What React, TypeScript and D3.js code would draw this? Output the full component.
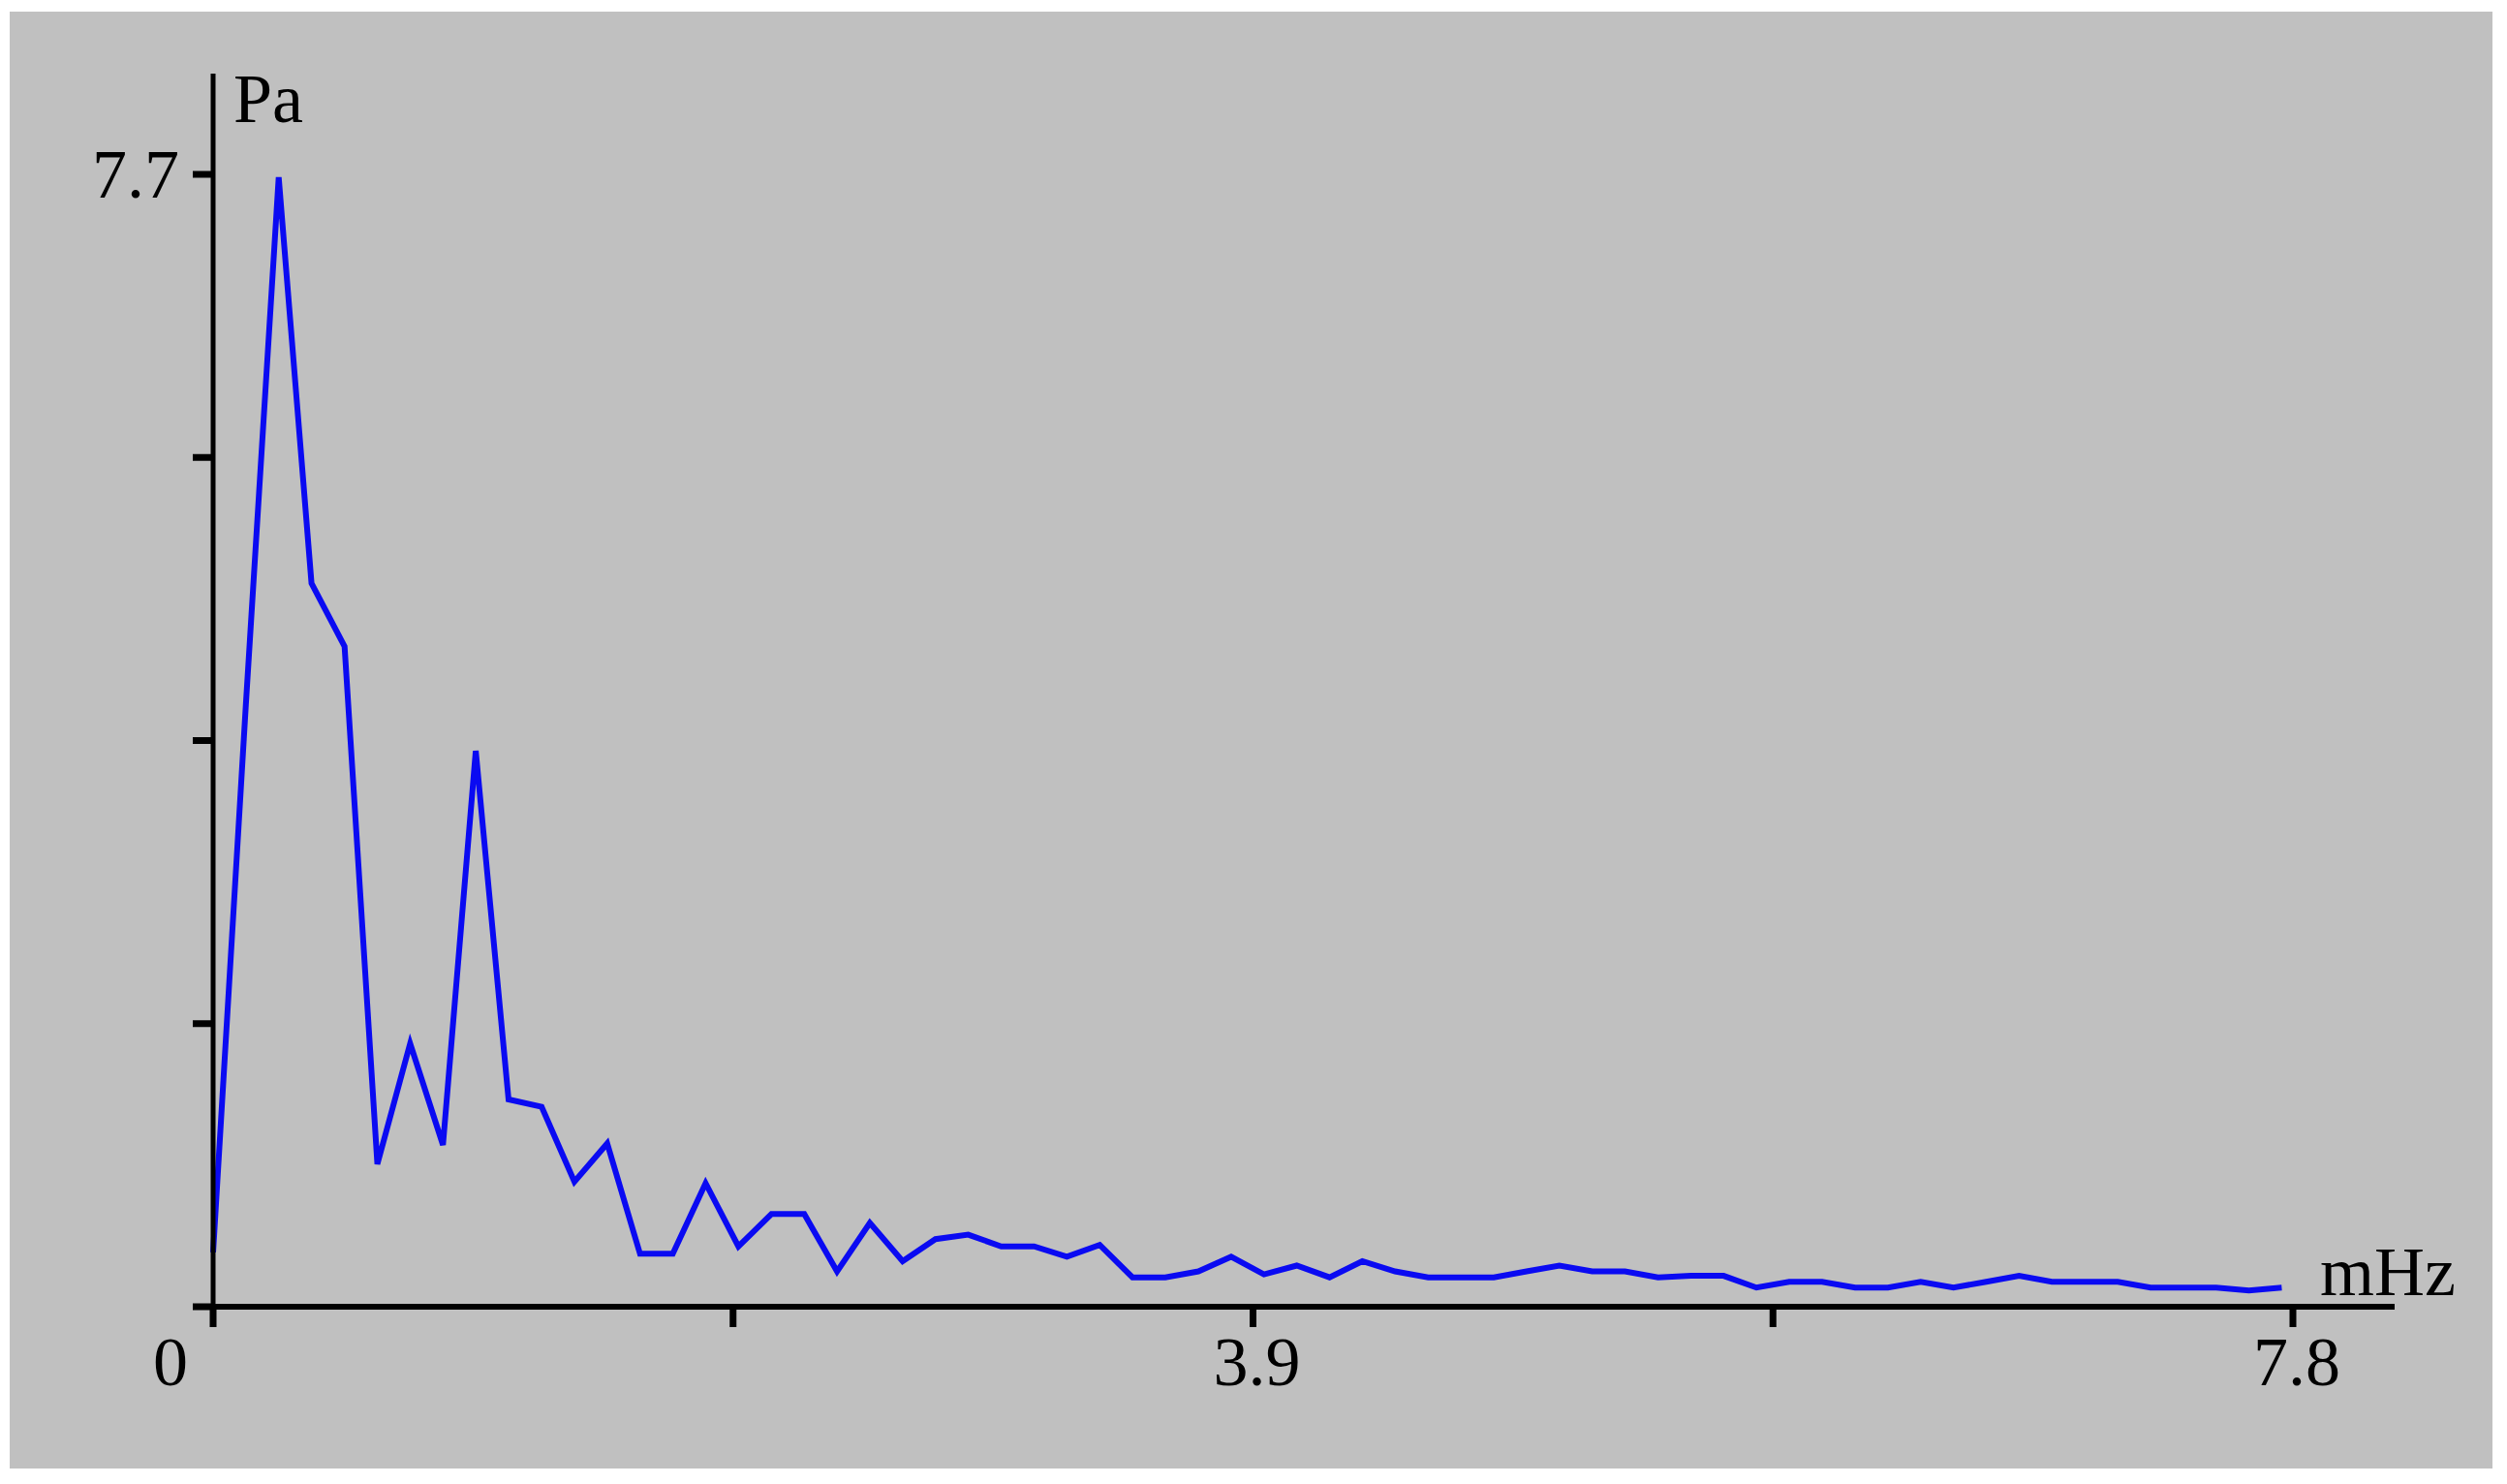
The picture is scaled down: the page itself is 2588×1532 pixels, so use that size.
import React from 'react';
import * as d3 from 'd3';

// Frequency (mHz) of each spectral sample
const freqs = [
  0, 0.123, 0.246, 0.369, 0.493, 0.616, 0.739, 0.862, 0.985, 1.108,
  1.232, 1.355, 1.478, 1.601, 1.724, 1.847, 1.97, 2.094, 2.217, 2.34,
  2.463, 2.586, 2.709, 2.832, 2.956, 3.079, 3.202, 3.325, 3.448, 3.571,
  3.695, 3.818, 3.941, 4.064, 4.187, 4.31, 4.433, 4.557, 4.68, 4.803,
  4.926, 5.049, 5.172, 5.295, 5.419, 5.542, 5.665, 5.788, 5.911, 6.034,
  6.158, 6.281, 6.404, 6.527, 6.65, 6.773, 6.896, 7.02, 7.143, 7.266,
  7.389, 7.512, 7.635, 7.758,
];

// Amplitude (Pa)
const amps = [
  0.37, 4.1, 7.68, 4.92, 4.49, 0.97, 1.79, 1.1, 3.78, 1.41,
  1.36, 0.85, 1.11, 0.36, 0.36, 0.84, 0.41, 0.63, 0.63, 0.24,
  0.57, 0.31, 0.46, 0.49, 0.41, 0.41, 0.34, 0.42, 0.2, 0.2,
  0.24, 0.34, 0.22, 0.28, 0.2, 0.31, 0.24, 0.2, 0.2, 0.2,
  0.24, 0.28, 0.24, 0.24, 0.2, 0.21, 0.21, 0.13, 0.17, 0.17,
  0.13, 0.13, 0.17, 0.13, 0.17, 0.21, 0.17, 0.17, 0.17, 0.13,
  0.13, 0.13, 0.11, 0.13,
];

const xTickValues = [0, 1.95, 3.9, 5.85, 7.8];
const xTickLabels = ['0', '', '3.9', '', '7.8'];
const yTickValues = [0, 1.925, 3.85, 5.775, 7.7];
const yTickLabels = ['', '', '', '', '7.7'];
const xUnit = 'mHz';
const yUnit = 'Pa';

export default function App() {
  const W = 2588;
  const H = 1532;
  const x = d3.scaleLinear().domain([0, 7.8]).range([220, 2367]);
  const y = d3.scaleLinear().domain([0, 7.7]).range([1349, 180]);
  const x0 = x(0);
  const y0 = y(0);

  const line = d3
    .line<number>()
    .x((_d, i) => x(freqs[i]))
    .y((d) => y(d));

  const font = '"Liberation Serif", "Times New Roman", serif';
  const fs = 72;

  return (
    <div style={{ position: 'absolute', left: 0, top: 0, width: W, height: H, background: '#fff' }}>
      <svg width={W} height={H} viewBox={`0 0 ${W} ${H}`} style={{ display: 'block' }}>
        <rect x={10} y={12} width={2563} height={1504} fill="#c0c0c0" />

        {/* data line */}
        <path d={line(amps) || ''} fill="none" stroke="#0a0af2" strokeWidth={6} strokeLinejoin="miter" />

        {/* axes */}
        <line x1={x0} x2={x0} y1={76} y2={y0 + 2} stroke="#000" strokeWidth={5} />
        <line x1={x0 - 2} x2={2472} y1={y0} y2={y0} stroke="#000" strokeWidth={6} />

        {/* y ticks */}
        {yTickValues.map((v, i) => (
          <g key={`yt${i}`}>
            <line x1={x0 - 21} x2={x0} y1={y(v)} y2={y(v)} stroke="#000" strokeWidth={7} />
            {yTickLabels[i] && (
              <text x={x0 - 35} y={y(v) + 24} textAnchor="end" fontFamily={font} fontSize={fs} fill="#000">
                {yTickLabels[i]}
              </text>
            )}
          </g>
        ))}

        {/* x ticks */}
        {xTickValues.map((v, i) => (
          <g key={`xt${i}`}>
            <line x1={x(v)} x2={x(v)} y1={y0} y2={y0 + 21} stroke="#000" strokeWidth={7} />
            {xTickLabels[i] && (
              <text
                x={v === 0 ? x(v) - 44 : x(v) + 4}
                y={1430}
                textAnchor="middle"
                fontFamily={font}
                fontSize={fs}
                fill="#000"
              >
                {xTickLabels[i]}
              </text>
            )}
          </g>
        ))}

        {/* unit labels */}
        <text x={x0 + 21} y={126} fontFamily={font} fontSize={fs} fill="#000">
          {yUnit}
        </text>
        <text x={2395} y={1337} fontFamily={font} fontSize={fs} fill="#000">
          {xUnit}
        </text>
      </svg>
    </div>
  );
}
